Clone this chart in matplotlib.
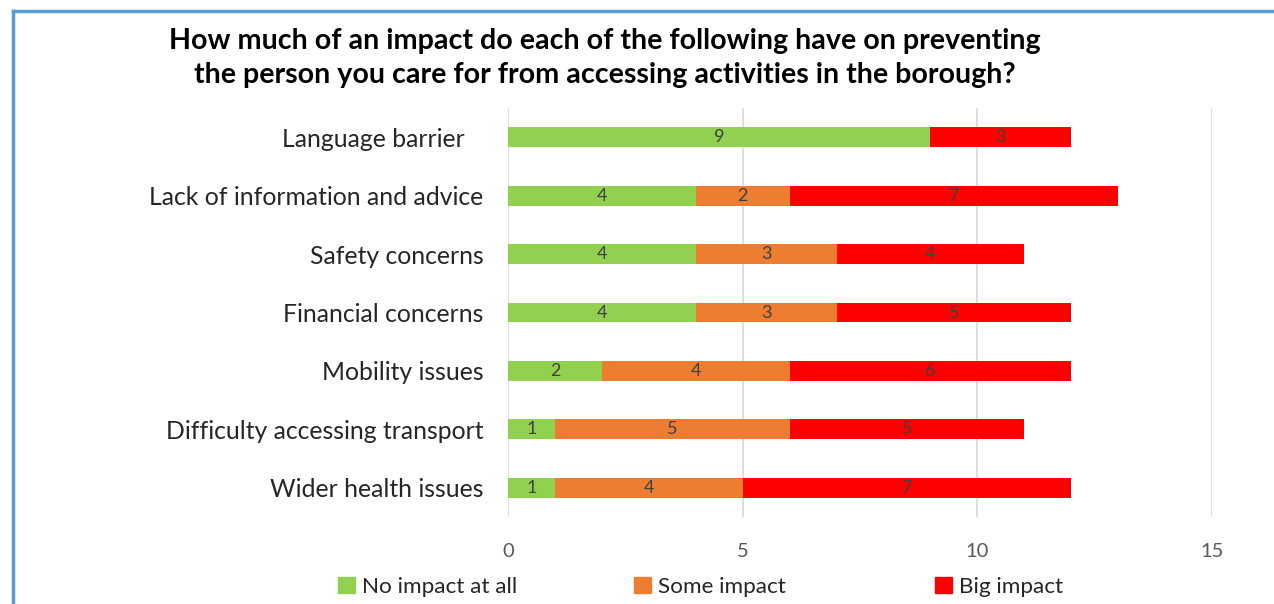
import matplotlib
matplotlib.use('Agg')
import matplotlib.pyplot as plt
from matplotlib.patches import Patch
from matplotlib.lines import Line2D

# Dados do gráfico
categories = ['Language barrier   ', 'Lack of information and advice', 'Safety concerns',
              'Financial concerns', 'Mobility issues', 'Difficulty accessing transport',
              'Wider health issues']
no_impact = [9, 4, 4, 4, 2, 1, 1]
some_impact = [0, 2, 3, 3, 4, 5, 4]
big_impact = [3, 7, 4, 5, 6, 5, 7]
series_names = ['No impact at all', 'Some impact', 'Big impact']
x_ticks = [0, 5, 10, 15]

title = ('How much of an impact do each of the following have on preventing\n'
         'the person you care for from accessing activities in the borough?')

colors = ['#92D050', '#ED7D31', '#FF0000']
plt.rcParams['font.family'] = ['Lato', 'DejaVu Sans']

fig = plt.figure(figsize=(12.74, 6.04), dpi=100)
ax = fig.add_axes([508 / 1274, 1 - 517 / 604, (1212 - 508) / 1274, (517 - 108) / 604])

y = list(range(len(categories)))
left = [0] * len(categories)
for vals, color, name in zip([no_impact, some_impact, big_impact], colors, series_names):
    bars = ax.barh(y, vals, left=left, height=0.34, color=color, label=name, zorder=3)
    for b, v in zip(bars, vals):
        if v > 0:
            ax.text(b.get_x() + b.get_width() / 2, b.get_y() + b.get_height() / 2, str(v),
                    ha='center', va='center', fontsize=13, color='#404040', zorder=4)
    left = [l + v for l, v in zip(left, vals)]

ax.set_xlim(0, 15)
ax.set_ylim(len(categories) - 0.5, -0.5)
ax.set_xticks(x_ticks)
ax.set_yticks(y)
ax.set_yticklabels(categories, fontsize=17.8, color='#262626')
ax.tick_params(axis='x', labelsize=14.5, labelcolor='#595959', length=0, pad=19)
ax.tick_params(axis='y', length=0, pad=17.5)
ax.grid(axis='x', color='#D9D9D9', linewidth=1.2, zorder=0)
for s in ax.spines.values():
    s.set_visible(False)

fig.text(605 / 1274, 1 - 58 / 604, title, ha='center', va='center', fontsize=20.6,
         fontweight='bold', color='black', linespacing=1.4)

# legenda, uma entrada por vez
legend_x = [338, 634, 935]
for name, color, lx in zip(series_names, colors, legend_x):
    leg = fig.legend(handles=[Patch(color=color)], labels=[name], loc='center left',
                     bbox_to_anchor=(lx / 1274, 1 - 587 / 604), frameon=False,
                     fontsize=16.2, handlelength=0.75, handleheight=0.75, handletextpad=0.3,
                     borderpad=0, borderaxespad=0)
    for t in leg.get_texts():
        t.set_color('#262626')

# borda azul
fig.add_artist(Line2D([13 / 1274, 1.0], [1 - 11 / 604, 1 - 11 / 604], color='#5B9BD5', lw=2.5))
fig.add_artist(Line2D([13 / 1274, 13 / 1274], [0, 1 - 11 / 604], color='#5B9BD5', lw=2.5))

fig.savefig('out.png', dpi=100)
